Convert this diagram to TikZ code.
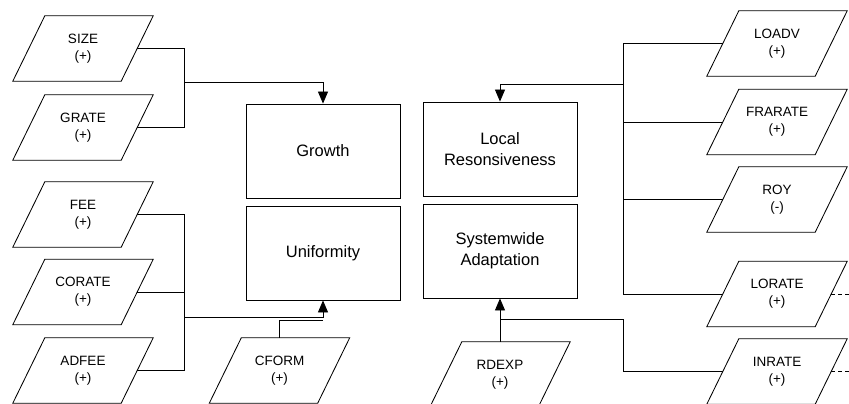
\documentclass[tikz,border=0pt]{standalone}
\usepackage{fontspec}
\setmainfont{Liberation Sans}
\usetikzlibrary{calc,arrows.meta}
\newcommand\pgram[4]{%
  \node[pg] (#1) at (#2,#3) {#4};
  \draw[ln] ($(#1.north west)+(16pt,0)$) -- ($(#1.north east)+(16pt,0)$) --
    ($(#1.south east)+(-16pt,0)$) -- ($(#1.south west)+(-16pt,0)$) -- cycle;}
\begin{document}
\begin{tikzpicture}[x=1pt,y=-1pt,
  ln/.style={line width=0.85pt,line join=miter},
  pg/.style={minimum width=108pt,minimum height=65pt,inner sep=0pt,align=center,
    font=\fontsize{13.5}{17}\selectfont},
  bx/.style={ln,draw,minimum width=154pt,minimum height=94pt,inner sep=0pt,align=center,
    font=\fontsize{16.5}{21}\selectfont},
  arr/.style={ln,-{Triangle[width=10pt,length=12pt]}},
  dsh/.style={ln,dash pattern=on 4pt off 3pt}]
\useasboundingbox (0,0) rectangle (849,404);
% boxes
\node[bx] (growth) at (323,151) {Growth};
\node[bx] (unif) at (323,253) {Uniformity};
\node[bx] (local) at (500,149) {Local\\Resonsiveness};
\node[bx] (sys) at (500,251) {Systemwide\\Adaptation};
% left parallelograms
\pgram{size}{83}{48.5}{SIZE\\(+)}
\pgram{grate}{83}{127.5}{GRATE\\(+)}
\pgram{fee}{83}{214.5}{FEE\\(+)}
\pgram{corate}{83}{292}{CORATE\\(+)}
\pgram{adfee}{83}{370.5}{ADFEE\\(+)}
\pgram{cform}{279.5}{370.5}{CFORM\\(+)}
\pgram{rdexp}{500}{374.5}{RDEXP\\(+)}
% right parallelograms
\pgram{loadv}{777}{43.5}{LOADV\\(+)}
\pgram{frarate}{777}{122}{FRARATE\\(+)}
\pgram{roy}{777}{199.5}{ROY\\(-)}
\pgram{lorate}{777}{294}{LORATE\\(+)}
\pgram{inrate}{777}{371.5}{INRATE\\(+)}
% junction coordinates
\coordinate (jg) at (184,82);
\coordinate (ju) at (184,317);
\coordinate (jl) at (623,84);
\coordinate (js) at (623,319);
\coordinate (endl) at (849,294);
\coordinate (endi) at (849,371.5);
% left upper group
\draw[ln] (size.east) -- (size.east -| jg) |- (grate.east);
\draw[arr] (jg) -| (growth.north);
% left lower group
\draw[ln] (fee.east) -- (fee.east -| ju) |- (adfee.east);
\draw[ln] (corate.east) -- (corate.east -| ju);
\draw[arr] (ju) -| (unif.south);
\draw[ln] (cform.north) |- ($(unif.south)+(0,20)$);
% right group
\draw[ln] (loadv.west) -- (loadv.west -| jl) |- (lorate.west);
\draw[ln] (frarate.west) -- (frarate.west -| jl);
\draw[ln] (roy.west) -- (roy.west -| jl);
\draw[arr] (jl) -| (local.north);
\draw[ln] (inrate.west) -- (inrate.west -| js) -- (js) -| ($(sys.south)+(0,21)$);
\draw[arr] (rdexp.north) -- (sys.south);
% dashed ends
\draw[dsh] (lorate.east) -- (endl);
\draw[dsh] (inrate.east) -- (endi);
\end{tikzpicture}
\end{document}
